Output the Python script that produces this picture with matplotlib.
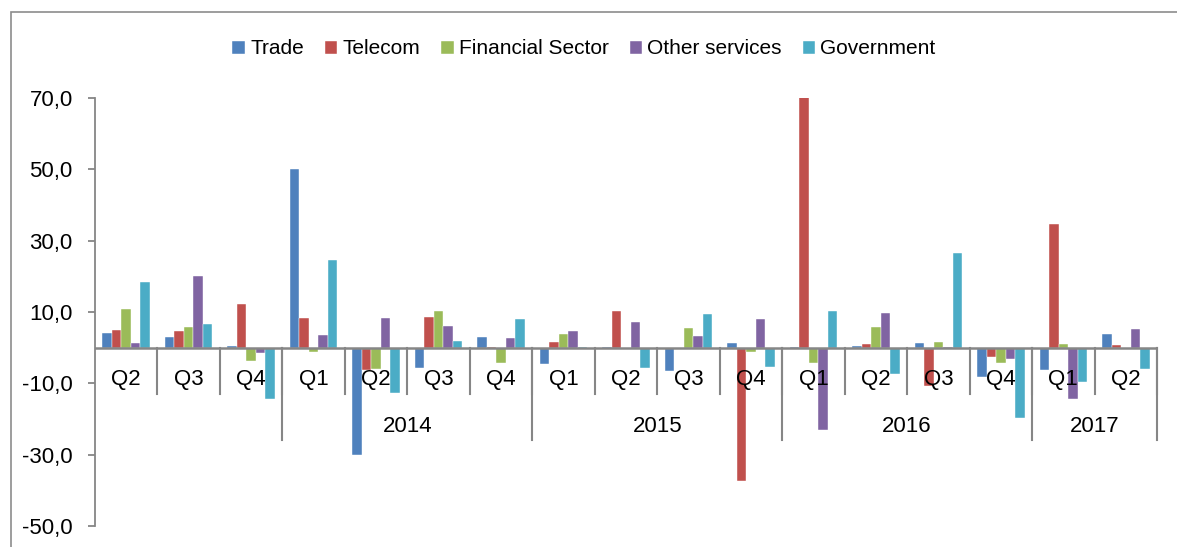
import matplotlib
matplotlib.use("Agg")
import matplotlib.pyplot as plt
from matplotlib.patches import Rectangle
from matplotlib.ticker import FuncFormatter

plt.rcParams['font.family'] = ['Liberation Sans', 'DejaVu Sans']

quarters = ["Q2", "Q3", "Q4", "Q1", "Q2", "Q3", "Q4", "Q1", "Q2", "Q3", "Q4",
            "Q1", "Q2", "Q3", "Q4", "Q1", "Q2"]
year_labels = ["", "2014", "2015", "2016", "2017"]
year_sizes = [3, 4, 4, 4, 2]

series_names = ["Trade", "Telecom", "Financial Sector", "Other services", "Government"]
colors = ["#4F81BD", "#C0504D", "#9BBB59", "#8064A2", "#4BACC6"]

trade = [4.1, 2.9, 0.5, 50.1, -30.1, -5.6, 3.0, -4.7, 0.1, -6.5, 1.4, 0.3, 0.5, 1.2, -8.2, -6.4, 3.8]
telecom = [4.9, 4.7, 12.2, 8.2, -6.3, 8.7, 0.2, 1.5, 10.4, 0.0, -37.4, 70.3, 0.9, -10.8, -2.5, 34.6, 0.8]
financial = [10.8, 5.9, -3.6, -1.3, -6.1, 10.2, -4.3, 3.9, 0.0, 5.5, -1.1, -4.2, 5.8, 1.7, -4.2, 1.1, 0.0]
other = [1.3, 20.0, -1.5, 3.5, 8.4, 6.1, 2.8, 4.7, 7.3, 3.3, 8.0, -23.0, 9.8, 0.3, -3.1, -14.3, 5.2]
government = [18.5, 6.7, -14.4, 24.6, -12.8, 1.9, 8.0, 0.1, -5.6, 9.3, -5.3, 10.4, -7.3, 26.6, -19.6, -9.7, -5.9]

series = [trade, telecom, financial, other, government]

W, H = 1177, 547
fig = plt.figure(figsize=(W / 100, H / 100), dpi=100)
ax = fig.add_axes([95 / W, 1 - 526 / H, (1157 - 95) / W, (526 - 98) / H])

n = len(quarters)
x = list(range(n))
bw = 0.152
for k, (name, vals, c) in enumerate(zip(series_names, series, colors)):
    ax.bar([xi + (k - 2) * bw for xi in x], vals, width=bw, color=c, label=name,
           edgecolor='white', linewidth=0.3, zorder=2)

ax.set_xlim(-0.5, n - 0.5)
ax.set_ylim(-50, 70)
ax.set_yticks([-50, -30, -10, 10, 30, 50, 70])
ax.yaxis.set_major_formatter(FuncFormatter(lambda v, p: f"{v:.1f}".replace('.', ',')))
gray = '#868686'
for s in ['top', 'right', 'bottom']:
    ax.spines[s].set_visible(False)
ax.spines['left'].set_color(gray)
ax.spines['left'].set_linewidth(1.3)
ax.tick_params(axis='y', direction='out', length=5, width=1.3, color=gray,
               labelsize=16, pad=11)
ax.tick_params(axis='x', bottom=False, labelbottom=False)
ax.axhline(0, color=gray, lw=1.8, zorder=3)

# category axis drawn at zero
q_sep = -12.9
y_sep = -25.8
for i, q in enumerate(quarters):
    ax.text(i, -8.9, q, ha='center', va='center', fontsize=16, clip_on=False)
for i in range(1, n + 1):
    ax.plot([i - 0.5, i - 0.5], [0, q_sep], color=gray, lw=1.5, clip_on=False, zorder=3)
start = 0
for lab, size in zip(year_labels, year_sizes):
    end = start + size
    if lab:
        ax.text((start + end - 1) / 2, -22.2, lab, ha='center', va='center', fontsize=16)
    ax.plot([end - 0.5, end - 0.5], [0, y_sep], color=gray, lw=1.5, clip_on=False, zorder=3)
    start = end

fig.legend(loc='center', bbox_to_anchor=(584 / W, 1 - 49 / H), ncol=5, frameon=False,
           fontsize=15, handlelength=0.6, handleheight=0.6, handletextpad=0.25,
           columnspacing=1.0)

fig.patches.append(Rectangle((11 / W, -0.1), 1.2, 1.1 - 12 / H, transform=fig.transFigure,
                             fill=False, edgecolor='#8c8c8c', lw=1.2))

fig.savefig("out.png", dpi=100)
